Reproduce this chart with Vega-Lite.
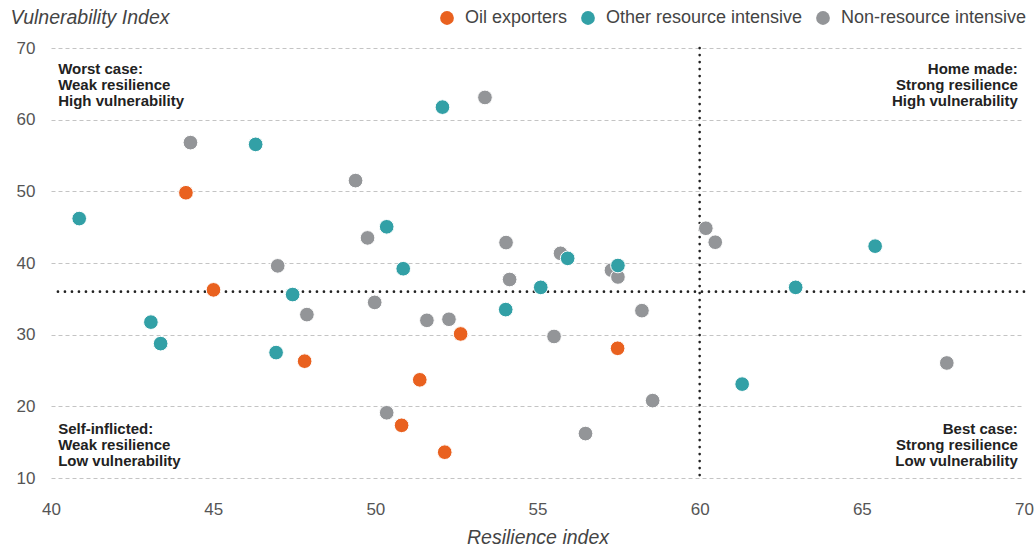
{
  "$schema": "https://vega.github.io/schema/vega-lite/v6.json",
  "width": 973,
  "height": 430,
  "autosize": {"type": "none"},
  "padding": {"left": 51, "top": 48, "right": 11, "bottom": 69},
  "background": "white",
  "config": {
    "view": {"stroke": null},
    "font": "Liberation Sans",
    "axisX": {
      "grid": false, "domain": false, "ticks": false, "labelFlush": false, "labelOverlap": false,
      "labelFontSize": 17, "labelColor": "#555555", "labelPadding": 23,
      "titleFontSize": 19.5, "titleFontStyle": "italic", "titleFontWeight": "normal", "titleColor": "#444444",
      "titleY": 59, "titleBaseline": "middle"
    },
    "axisY": {
      "grid": true, "gridDash": [4, 3], "gridColor": "#C4C4C4", "gridWidth": 1,
      "domain": false, "ticks": false, "labelFlush": false, "labelOverlap": false,
      "labelFontSize": 17, "labelColor": "#555555", "labelPadding": 16,
      "titleFontSize": 19.5, "titleFontStyle": "italic", "titleFontWeight": "normal", "titleColor": "#444444",
      "titleAngle": 0, "titleX": -41, "titleY": -31, "titleAlign": "left", "titleBaseline": "middle"
    }
  },
  "datasets": {
    "points": [
      {"group": "Non-resource intensive", "resilience": 44.30, "vulnerability": 56.8},
      {"group": "Non-resource intensive", "resilience": 46.99, "vulnerability": 39.6},
      {"group": "Non-resource intensive", "resilience": 47.89, "vulnerability": 32.8},
      {"group": "Non-resource intensive", "resilience": 49.39, "vulnerability": 51.5},
      {"group": "Non-resource intensive", "resilience": 49.76, "vulnerability": 43.5},
      {"group": "Non-resource intensive", "resilience": 49.98, "vulnerability": 34.5},
      {"group": "Non-resource intensive", "resilience": 50.35, "vulnerability": 19.1},
      {"group": "Non-resource intensive", "resilience": 51.59, "vulnerability": 32.0},
      {"group": "Non-resource intensive", "resilience": 52.27, "vulnerability": 32.15},
      {"group": "Non-resource intensive", "resilience": 53.38, "vulnerability": 63.1},
      {"group": "Non-resource intensive", "resilience": 54.03, "vulnerability": 42.85},
      {"group": "Non-resource intensive", "resilience": 54.14, "vulnerability": 37.7},
      {"group": "Non-resource intensive", "resilience": 55.51, "vulnerability": 29.75},
      {"group": "Non-resource intensive", "resilience": 55.71, "vulnerability": 41.35},
      {"group": "Non-resource intensive", "resilience": 56.48, "vulnerability": 16.2},
      {"group": "Non-resource intensive", "resilience": 57.28, "vulnerability": 39.0},
      {"group": "Non-resource intensive", "resilience": 57.48, "vulnerability": 38.05},
      {"group": "Non-resource intensive", "resilience": 58.22, "vulnerability": 33.35},
      {"group": "Non-resource intensive", "resilience": 58.55, "vulnerability": 20.8},
      {"group": "Non-resource intensive", "resilience": 60.19, "vulnerability": 44.85},
      {"group": "Non-resource intensive", "resilience": 60.48, "vulnerability": 42.9},
      {"group": "Non-resource intensive", "resilience": 67.62, "vulnerability": 26.05},
      {"group": "Other resource intensive", "resilience": 40.87, "vulnerability": 46.2},
      {"group": "Other resource intensive", "resilience": 43.08, "vulnerability": 31.75},
      {"group": "Other resource intensive", "resilience": 43.38, "vulnerability": 28.75},
      {"group": "Other resource intensive", "resilience": 46.31, "vulnerability": 56.55},
      {"group": "Other resource intensive", "resilience": 46.94, "vulnerability": 27.5},
      {"group": "Other resource intensive", "resilience": 47.45, "vulnerability": 35.6},
      {"group": "Other resource intensive", "resilience": 50.35, "vulnerability": 45.05},
      {"group": "Other resource intensive", "resilience": 50.86, "vulnerability": 39.2},
      {"group": "Other resource intensive", "resilience": 52.07, "vulnerability": 61.75},
      {"group": "Other resource intensive", "resilience": 54.02, "vulnerability": 33.5},
      {"group": "Other resource intensive", "resilience": 55.10, "vulnerability": 36.6},
      {"group": "Other resource intensive", "resilience": 55.93, "vulnerability": 40.65},
      {"group": "Other resource intensive", "resilience": 57.48, "vulnerability": 39.65},
      {"group": "Other resource intensive", "resilience": 61.31, "vulnerability": 23.1},
      {"group": "Other resource intensive", "resilience": 62.96, "vulnerability": 36.6},
      {"group": "Other resource intensive", "resilience": 65.41, "vulnerability": 42.35},
      {"group": "Oil exporters", "resilience": 44.16, "vulnerability": 49.8},
      {"group": "Oil exporters", "resilience": 45.01, "vulnerability": 36.25},
      {"group": "Oil exporters", "resilience": 47.82, "vulnerability": 26.3},
      {"group": "Oil exporters", "resilience": 51.37, "vulnerability": 23.7},
      {"group": "Oil exporters", "resilience": 52.63, "vulnerability": 30.1},
      {"group": "Oil exporters", "resilience": 50.81, "vulnerability": 17.35},
      {"group": "Oil exporters", "resilience": 52.14, "vulnerability": 13.6},
      {"group": "Oil exporters", "resilience": 57.47, "vulnerability": 28.1}
    ],
    "vline": [{"resilience": 60}],
    "hline": [{"vulnerability": 36}],
    "notes": [
      {"side": "left", "resilience": 40.22, "vulnerability": 68.0, "label": "Worst case:\nWeak resilience\nHigh vulnerability"},
      {"side": "right", "resilience": 69.81, "vulnerability": 68.0, "label": "Home made:\nStrong resilience\nHigh vulnerability"},
      {"side": "left", "resilience": 40.22, "vulnerability": 17.85, "label": "Self-inflicted:\nWeak resilience\nLow vulnerability"},
      {"side": "right", "resilience": 69.81, "vulnerability": 17.85, "label": "Best case:\nStrong resilience\nLow vulnerability"}
    ]
  },
  "layer": [
    {
      "data": {"name": "vline"},
      "mark": {"type": "rule", "color": "#222222", "strokeWidth": 2.6, "strokeCap": "round", "strokeDash": [0.1, 6.9]},
      "encoding": {
        "x": {"field": "resilience", "type": "quantitative", "scale": {"domain": [40, 70], "nice": false, "zero": false}, "axis": {"title": "Resilience index", "values": [40, 45, 50, 55, 60, 65, 70]}}
      }
    },
    {
      "data": {"name": "hline"},
      "mark": {"type": "rule", "color": "#222222", "strokeWidth": 2.6, "strokeCap": "round", "strokeDash": [0.1, 6.9]},
      "encoding": {
        "y": {"field": "vulnerability", "type": "quantitative", "scale": {"domain": [10, 70], "nice": false, "zero": false}, "axis": {"title": "Vulnerability Index", "values": [10, 20, 30, 40, 50, 60, 70]}}
      }
    },
    {
      "data": {"name": "notes"},
      "transform": [{"filter": "datum.side === 'left'"}],
      "mark": {"type": "text", "align": "left", "baseline": "top", "lineBreak": "\n", "lineHeight": 16, "fontSize": 15, "fontWeight": "bold", "color": "#222222"},
      "encoding": {
        "x": {"field": "resilience", "type": "quantitative", "scale": {"domain": [40, 70], "nice": false, "zero": false}, "axis": {"title": "Resilience index", "values": [40, 45, 50, 55, 60, 65, 70]}},
        "y": {"field": "vulnerability", "type": "quantitative", "scale": {"domain": [10, 70], "nice": false, "zero": false}, "axis": {"title": "Vulnerability Index", "values": [10, 20, 30, 40, 50, 60, 70]}},
        "text": {"field": "label", "type": "nominal"}
      }
    },
    {
      "data": {"name": "notes"},
      "transform": [{"filter": "datum.side === 'right'"}],
      "mark": {"type": "text", "align": "right", "baseline": "top", "lineBreak": "\n", "lineHeight": 16, "fontSize": 15, "fontWeight": "bold", "color": "#222222"},
      "encoding": {
        "x": {"field": "resilience", "type": "quantitative", "scale": {"domain": [40, 70], "nice": false, "zero": false}, "axis": {"title": "Resilience index", "values": [40, 45, 50, 55, 60, 65, 70]}},
        "y": {"field": "vulnerability", "type": "quantitative", "scale": {"domain": [10, 70], "nice": false, "zero": false}, "axis": {"title": "Vulnerability Index", "values": [10, 20, 30, 40, 50, 60, 70]}},
        "text": {"field": "label", "type": "nominal"}
      }
    },
    {
      "data": {"name": "points"},
      "mark": {"type": "point", "filled": true, "size": 215, "opacity": 1, "stroke": "white", "strokeWidth": 1, "strokeOpacity": 1},
      "encoding": {
        "x": {"field": "resilience", "type": "quantitative", "scale": {"domain": [40, 70], "nice": false, "zero": false}, "axis": {"title": "Resilience index", "values": [40, 45, 50, 55, 60, 65, 70]}},
        "y": {"field": "vulnerability", "type": "quantitative", "scale": {"domain": [10, 70], "nice": false, "zero": false}, "axis": {"title": "Vulnerability Index", "values": [10, 20, 30, 40, 50, 60, 70]}},
        "color": {
          "field": "group", "type": "nominal",
          "scale": {
            "domain": ["Oil exporters", "Other resource intensive", "Non-resource intensive"],
            "range": ["#E9611F", "#32A0A6", "#939598"]
          },
          "legend": {
            "title": null, "orient": "none", "legendX": 387, "legendY": -39, "direction": "horizontal",
            "symbolType": "circle", "symbolSize": 190, "symbolStrokeWidth": 0, "symbolOpacity": 1,
            "labelFontSize": 18, "labelColor": "#444444", "labelLimit": 400, "columnPadding": 11, "labelOffset": 9
          }
        }
      }
    }
  ]
}
